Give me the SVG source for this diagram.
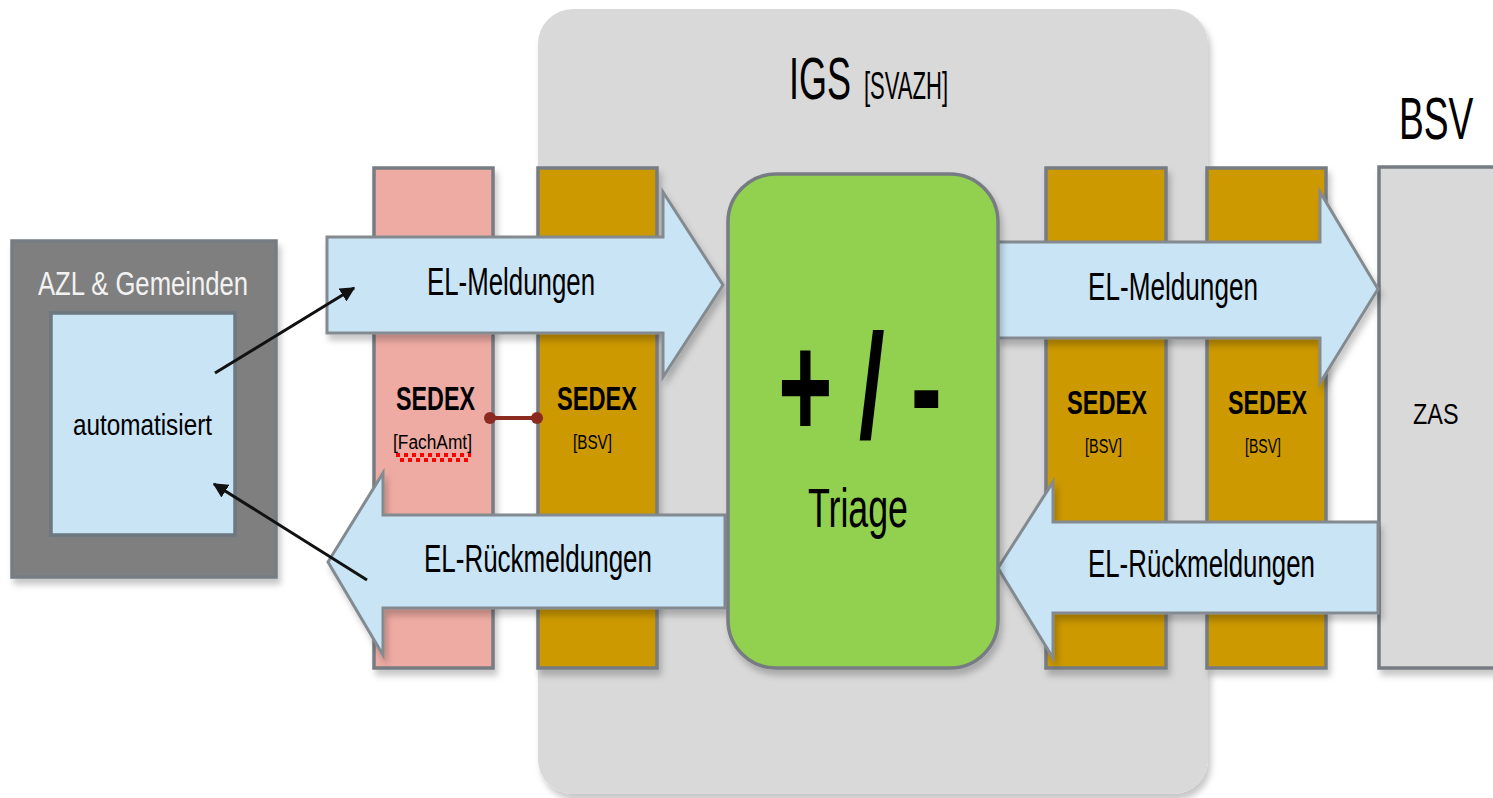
<svg xmlns="http://www.w3.org/2000/svg" width="1493" height="798" viewBox="0 0 1493 798">
<defs>
<filter id="sh" x="-10%" y="-10%" width="130%" height="130%">
<feDropShadow dx="3" dy="6" stdDeviation="3" flood-color="#000" flood-opacity="0.22"/>
</filter>
<marker id="ah" viewBox="0 0 10 10" refX="9" refY="5" markerWidth="5" markerHeight="5" orient="auto" markerUnits="strokeWidth">
<path d="M0,0 L10,5 L0,10 Z" fill="#111"/>
</marker>
<marker id="dot" viewBox="0 0 10 10" refX="5" refY="5" markerWidth="3" markerHeight="3" orient="auto" markerUnits="strokeWidth">
<circle cx="5" cy="5" r="5" fill="#8b2a20"/>
</marker>
</defs>
<style>
text{font-family:"Liberation Sans",Arial,sans-serif;fill:#000}
.box{stroke:#767c82;stroke-width:3.5}
.col{stroke:#767c82;stroke-width:3.5;filter:url(#sh)}
.gold{fill:#cc9900}
.pink{fill:#eeaba3}
.blk{fill:#c9e4f5;stroke:#838a90;stroke-width:3;filter:url(#sh)}
.lbl{font-size:38px}
.sed{font-size:34px;font-weight:bold}
.sub{font-size:20px}
.cn{stroke:#111;stroke-width:3;fill:none;marker-end:url(#ah)}
</style>
<g id="igs">
<rect x="538" y="9" width="670" height="785" rx="35" ry="35" fill="#d9d9d9" filter="url(#sh)"/>
<text transform="translate(789,99) scale(0.6,1)" font-size="60">IGS</text>
<text transform="translate(864,99) scale(0.58,1)" font-size="38">[SVAZH]</text>
</g>
<g id="bsv">
<text transform="translate(1399,139) scale(0.62,1)" font-size="60">BSV</text>
<rect id="zas" class="box" x="1379" y="167" width="130" height="501" fill="#d9d9d9" filter="url(#sh)"/>
<text transform="translate(1413,424) scale(0.78,1)" font-size="30">ZAS</text>
</g>
<g id="azl">
<rect class="box" x="12" y="241" width="264" height="336" fill="#7f7f7f" filter="url(#sh)"/>
<text x="38" y="295" font-size="34" style="fill:#f2f2f2" textLength="210" lengthAdjust="spacingAndGlyphs">AZL &amp; Gemeinden</text>
<rect x="51" y="313" width="184" height="222" fill="#c9e4f5" stroke="#6d7780" stroke-width="3.5"/>
<text x="73" y="435" font-size="30" textLength="139" lengthAdjust="spacingAndGlyphs">automatisiert</text>
</g>
<g id="sedex-fachamt">
<rect class="col pink" x="374" y="168" width="119" height="500"/>
<text class="sed" x="396" y="410" textLength="79" lengthAdjust="spacingAndGlyphs">SEDEX</text>
<text class="sub" x="393" y="449" textLength="79" lengthAdjust="spacingAndGlyphs">[FachAmt]</text>
<line x1="396" y1="455" x2="471" y2="455" stroke="#f00" stroke-width="4" stroke-dasharray="4 4"/>
<line x1="400" y1="460" x2="471" y2="460" stroke="#f00" stroke-width="4" stroke-dasharray="4 4"/>
</g>
<g id="sedex-bsv-1">
<rect class="col gold" x="538" y="168" width="119" height="500"/>
<text class="sed" x="557" y="410" textLength="80" lengthAdjust="spacingAndGlyphs">SEDEX</text>
<text class="sub" x="573" y="449" textLength="39" lengthAdjust="spacingAndGlyphs">[BSV]</text>
</g>
<g id="sedex-bsv-2">
<rect class="col gold" x="1046" y="168" width="120" height="500"/>
<text class="sed" x="1067" y="414" textLength="80" lengthAdjust="spacingAndGlyphs">SEDEX</text>
<text class="sub" x="1085" y="453" textLength="37" lengthAdjust="spacingAndGlyphs">[BSV]</text>
</g>
<g id="sedex-bsv-3">
<rect class="col gold" x="1207" y="168" width="119" height="500"/>
<text class="sed" x="1228" y="414" textLength="79" lengthAdjust="spacingAndGlyphs">SEDEX</text>
<text class="sub" x="1245" y="453" textLength="36" lengthAdjust="spacingAndGlyphs">[BSV]</text>
</g>
<g id="arrow-meldungen-left">
<path class="blk" d="M327,237 H663 V192 L723,285 L663,377 V333 H327 Z"/>
<text class="lbl" x="427" y="295" textLength="168" lengthAdjust="spacingAndGlyphs">EL-Meldungen</text>
</g>
<g id="arrow-rueck-left">
<path class="blk" d="M725,515 V608 H383 V655 L328,562 L383,473 V515 Z"/>
<text class="lbl" x="424" y="572" textLength="228" lengthAdjust="spacingAndGlyphs">EL-Rückmeldungen</text>
</g>
<g id="arrow-meldungen-right">
<path class="blk" d="M997,242 H1320 V192 L1378,289 L1320,383 V338 H997 Z"/>
<text class="lbl" x="1088" y="300" textLength="170" lengthAdjust="spacingAndGlyphs">EL-Meldungen</text>
</g>
<g id="arrow-rueck-right">
<path class="blk" d="M1378,522 V613 H1053 V658 L998,568 L1053,482 V522 Z"/>
<text class="lbl" x="1088" y="577" textLength="227" lengthAdjust="spacingAndGlyphs">EL-Rückmeldungen</text>
</g>
<g id="triage">
<rect class="box" x="728" y="174" width="270" height="494" rx="48" ry="48" fill="#92d050" filter="url(#sh)"/>
<text x="778" y="438" font-size="148" font-weight="bold" textLength="164" lengthAdjust="spacingAndGlyphs">+ / -</text>
<text x="808" y="527" font-size="56" textLength="100" lengthAdjust="spacingAndGlyphs">Triage</text>
</g>
<g id="connectors">
<line class="cn" x1="215" y1="373" x2="354" y2="288"/>
<line class="cn" x1="367" y1="580" x2="214" y2="484"/>
<line x1="490" y1="418" x2="537" y2="418" stroke="#8b2a20" stroke-width="4" marker-start="url(#dot)" marker-end="url(#dot)"/>
</g>
</svg>
